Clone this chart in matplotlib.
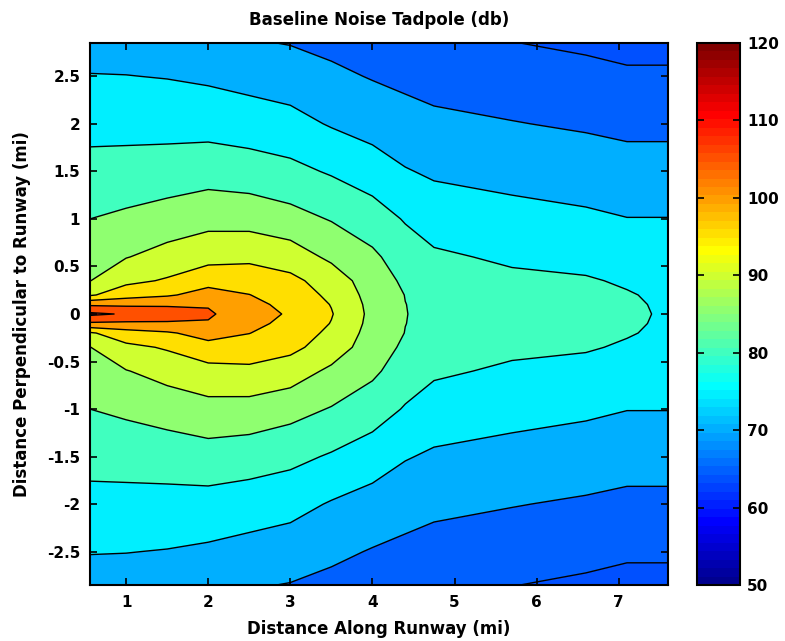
import numpy as np
import matplotlib
matplotlib.use("Agg")
import matplotlib.pyplot as plt
from matplotlib.colors import ListedColormap, Normalize
from matplotlib.cm import ScalarMappable
from matplotlib.ticker import FuncFormatter

# grid (upper half, the plot is mirrored about y = 0)
x_mi = [0.56, 1.0, 1.5, 2.0, 2.5, 3.0, 3.5, 4.0, 4.4, 4.75, 5.7, 6.6, 7.1, 7.6]
y_half_mi = [0.0, 0.1, 0.2, 0.35, 0.6, 1.0, 1.5, 2.0, 2.5, 2.85]

# noise level (dB): one row per y in y_half_mi, one column per x in x_mi
noise_half_db = [
    [111.0, 109.5, 107.3, 105.8, 101.5, 99.6, 95.3, 88.7, 85.1, 84.0, 83.0, 81.5, 80.6, 79.6],
    [104.2, 104.0, 104.4, 104.5, 101.0, 99.0, 94.8, 88.5, 85.05, 83.9, 82.8, 81.4, 80.5, 79.5],
    [94.4, 97.9, 99.4, 101.9, 100.1, 97.6, 94.0, 88.1, 84.9, 83.6, 82.3, 81.1, 80.3, 79.2],
    [89.9, 93.8, 95.5, 98.3, 97.8, 96.2, 92.8, 87.3, 84.2, 82.9, 81.0, 80.4, 79.5, 78.8],
    [88.0, 89.8, 91.8, 93.3, 93.9, 92.6, 89.0, 85.9, 82.6, 80.8, 79.2, 78.6, 77.8, 77.8],
    [85.0, 85.9, 87.1, 88.4, 88.1, 86.7, 84.7, 82.4, 79.6, 77.6, 76.6, 75.8, 75.1, 75.1],
    [81.7, 81.9, 82.3, 82.9, 82.3, 81.3, 79.5, 77.4, 75.3, 74.35, 73.4, 72.6, 72.0, 72.0],
    [78.4, 78.4, 78.3, 78.2, 77.5, 76.6, 74.6, 73.1, 72.0, 71.2, 70.2, 69.4, 68.8, 68.8],
    [75.2, 75.1, 74.8, 74.2, 73.3, 72.5, 71.0, 69.7, 68.8, 68.0, 67.3, 66.4, 65.7, 65.7],
    [72.9, 72.8, 72.5, 70.9, 70.4, 69.8, 68.8, 68.0, 66.9, 65.8, 65.1, 64.2, 63.6, 63.6],
]

contour_levels = [65, 70, 75, 80, 85, 90, 95, 100, 105, 110]
cbar_ticks = [50, 60, 70, 80, 90, 100, 110, 120]
x_ticks = [1, 2, 3, 4, 5, 6, 7]
y_ticks = [-2.5, -2, -1.5, -1, -0.5, 0, 0.5, 1, 1.5, 2, 2.5]

title = "Baseline Noise Tadpole (db)"
x_label = "Distance Along Runway (mi)"
y_label = "Distance Perpendicular to Runway (mi)"


def matlab_jet(n=64):
    # same breakpoints as MATLAB's jet(64)
    i = np.arange(n)
    r = np.interp(i, [0, 23, 39, 55, 63], [0, 0, 1, 1, 0.5])
    g = np.interp(i, [0, 7, 23, 39, 55, 63], [0, 0, 1, 1, 0, 0])
    b = np.interp(i, [0, 7, 23, 39, 63], [0.5625, 1, 1, 0, 0])
    return ListedColormap(np.column_stack([r, g, b]))


plt.rcParams["axes.unicode_minus"] = False

y_mi = np.concatenate([-np.array(y_half_mi[:0:-1]), y_half_mi])
noise = np.vstack([np.array(noise_half_db[:0:-1]), np.array(noise_half_db)])
X, Y = np.meshgrid(x_mi, y_mi)

cmap = matlab_jet(64)
norm = Normalize(vmin=50, vmax=120)

# MATLAB colours each band by its lower level (data minimum for the lowest band)
fill_levels = [noise.min() - 0.01] + contour_levels + [noise.max() + 0.01]
band_colors = [cmap(norm(lev)) for lev in fill_levels[:-1]]

fig = plt.figure(figsize=(7.85, 6.41), dpi=100)
ax = fig.add_axes([90 / 785, 56 / 641, 578 / 785, 542 / 641])
cax = fig.add_axes([697 / 785, 56 / 641, 43 / 785, 542 / 641])

ax.contourf(X, Y, noise, levels=fill_levels, colors=band_colors, antialiased=True)
ax.contour(X, Y, noise, levels=contour_levels, colors="k", linewidths=1.0)

ax.set_xlim(x_mi[0], x_mi[-1])
ax.set_ylim(-2.85, 2.85)
ax.set_xticks(x_ticks)
ax.set_yticks(y_ticks)
ax.yaxis.set_major_formatter(FuncFormatter(lambda v, p: f"{v:g}"))

tick_font = {"family": "DejaVu Sans", "weight": "bold", "size": 11}
label_font = {"family": "DejaVu Sans", "weight": "bold", "size": 12}

ax.tick_params(direction="in", top=True, right=True, length=5, width=1.2, pad=7)
for lab in ax.get_xticklabels() + ax.get_yticklabels():
    lab.set_fontproperties(tick_font)
for sp in ax.spines.values():
    sp.set_linewidth(1.5)

cb = fig.colorbar(ScalarMappable(norm=norm, cmap=cmap), cax=cax, ticks=cbar_ticks)
cb.outline.set_linewidth(1.5)
cax.tick_params(direction="in", left=True, right=True, length=5, width=1.2, pad=5)
for lab in cax.get_yticklabels():
    lab.set_fontproperties(tick_font)

fig.text(379 / 785, 1 - 20 / 641, title, ha="center", va="center", **label_font)
fig.text(379 / 785, 1 - 629 / 641, x_label, ha="center", va="center", **label_font)
fig.text(22 / 785, 1 - 314 / 641, y_label, ha="center", va="center",
         rotation=90, **label_font)

fig.savefig("out.png", dpi=100)
